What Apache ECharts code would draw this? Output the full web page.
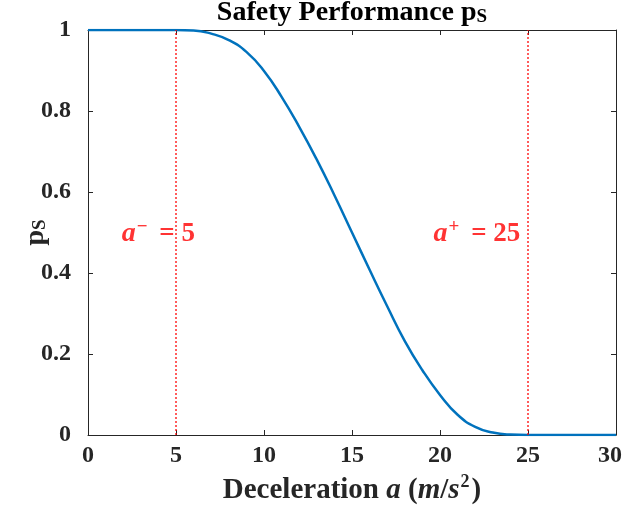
<!DOCTYPE html>
<html>
<head>
<meta charset="utf-8">
<script src="https://cdn.jsdelivr.net/npm/echarts@6/dist/echarts.min.js"></script>
<style>
  html, body { margin: 0; padding: 0; background: #fff; }
  #chart { width: 623px; height: 507px; }
</style>
</head>
<body>
<div id="chart"></div>
<script>
// Deceleration (m/s^2) and the matching safety performance p_S
const decel = [0, 1, 2, 3, 4, 5, 6, 7, 8, 9, 10, 11, 12, 13, 14, 15,
  16, 17, 18, 19, 20, 21, 22, 23, 24, 25, 26, 27, 28, 29, 30];
const safety = [1, 1, 1, 1, 1, 1, 0.999, 0.991, 0.975, 0.946, 0.899, 0.835, 0.761, 0.680, 0.592, 0.5,
  0.408, 0.318, 0.232, 0.160, 0.099, 0.050, 0.020, 0.006, 0.001, 0, 0, 0, 0, 0, 0];

// Acceleration bounds marked on the plot
const bounds = [
  { value: 5, text: '{i|a}{sup|−}{b| = 5}', labelX: 4.0 },
  { value: 25, text: '{i|a}{sup|+}{b| = 25}', labelX: 22.1 }
];

const xTicks = [0, 5, 10, 15, 20, 25, 30];
const yTicks = [0, 0.2, 0.4, 0.6, 0.8, 1];

const serif = '"Liberation Serif", "DejaVu Serif", serif';
const axisColor = '#262626';

const chart = echarts.init(document.getElementById('chart'));

const axisCommon = {
  axisLine: { show: true, onZero: false, lineStyle: { color: axisColor, width: 1 } },
  axisTick: { show: true, inside: true, length: 5, lineStyle: { color: axisColor, width: 1 } },
  splitLine: { show: false }
};

const tickFont = { fontFamily: serif, fontWeight: 'bold', fontSize: 24, color: '#262626' };

chart.setOption({
  animation: false,
  backgroundColor: '#ffffff',
  title: {
    text: '{t|Safety Performance p}{s|S}',
    left: 352,
    textAlign: 'center',
    top: -1,
    padding: 0,
    textStyle: {
      rich: {
        t: { fontFamily: serif, fontWeight: 'bold', fontSize: 28, color: '#000', lineHeight: 28, verticalAlign: 'top', padding: [0, 0, 3, 0] },
        s: { fontFamily: serif, fontWeight: 'bold', fontSize: 19, color: '#000', lineHeight: 20, verticalAlign: 'bottom' }
      }
    }
  },
  grid: { left: 88, right: 7, top: 30, bottom: 72, outerBoundsMode: 'none', containLabel: false },
  xAxis: [
    Object.assign({
      type: 'value', min: 0, max: 30, interval: 5, position: 'bottom',
      name: '{r|Deceleration }{i|a}{r| (}{i|m}{r|/}{i|s}{sup|2}{r|)}',
      nameLocation: 'middle', nameGap: 34,
      nameTextStyle: {
        rich: {
          r: { fontFamily: serif, fontWeight: 'bold', fontSize: 29, color: '#262626', lineHeight: 32, verticalAlign: 'bottom' },
          i: { fontFamily: serif, fontStyle: 'italic', fontWeight: 'bold', fontSize: 29, color: '#262626', lineHeight: 32, verticalAlign: 'bottom' },
          sup: { fontFamily: serif, fontWeight: 'bold', fontSize: 18, color: '#262626', lineHeight: 32, verticalAlign: 'top', padding: [0, 2, 0, 1] }
        }
      },
      axisLabel: Object.assign({
        margin: 9,
        // the last label sits a little inside the right edge
        formatter: v => !xTicks.includes(v) ? '' : (v === 30 ? '{e|30}' : String(v)),
        rich: { e: Object.assign({ padding: [0, 12, 0, 0] }, tickFont) }
      }, tickFont)
    }, axisCommon),
    Object.assign({
      type: 'value', min: 0, max: 30, interval: 5, position: 'top',
      axisLabel: { show: false }
    }, axisCommon)
  ],
  yAxis: [
    Object.assign({
      type: 'value', min: 0, max: 1, interval: 0.2, position: 'left',
      name: '{p|p}{s|S}', nameLocation: 'middle', nameGap: 38, nameRotate: 90,
      nameMoveOverlap: false,
      nameTextStyle: {
        rich: {
          p: { fontFamily: serif, fontWeight: 'bold', fontSize: 28, color: '#262626', lineHeight: 28, verticalAlign: 'top', padding: [0, 0, 3, 0] },
          s: { fontFamily: serif, fontWeight: 'bold', fontSize: 19, color: '#262626', lineHeight: 20, verticalAlign: 'bottom' }
        }
      },
      axisLabel: Object.assign({
        margin: 17,
        formatter: v => {
          const t = yTicks.find(y => Math.abs(y - v) < 1e-9);
          return t === undefined ? '' : (t === 0 || t === 1 ? String(t) : t.toFixed(1));
        }
      }, tickFont)
    }, axisCommon),
    Object.assign({
      type: 'value', min: 0, max: 1, interval: 0.2, position: 'right',
      axisLabel: { show: false }
    }, axisCommon)
  ],
  series: [
    {
      type: 'line',
      data: decel.map((x, i) => [x, safety[i]]),
      smooth: 0.5,
      showSymbol: false,
      lineStyle: { color: '#0072BD', width: 2.5 },
      z: 3,
      markLine: {
        silent: true,
        symbol: 'none',
        label: { show: false },
        lineStyle: { color: '#ff0000', type: [2, 2], width: 1.5, opacity: 0.85 },
        data: bounds.map(b => [{ coord: [b.value, 0] }, { coord: [b.value, 1] }])
      }
    },
    {
      type: 'scatter',
      symbolSize: 0,
      silent: true,
      z: 4,
      data: bounds.map(b => ({ value: [b.labelX, 0.5], text: b.text })),
      label: {
        show: true,
        position: 'inside',
        formatter: p => p.data.text,
        rich: {
          i: { fontFamily: serif, fontStyle: 'italic', fontWeight: 'bold', fontSize: 28, color: '#ff0000', lineHeight: 30, verticalAlign: 'bottom' },
          sup: { fontFamily: serif, fontWeight: 'bold', fontSize: 19, color: '#ff0000', lineHeight: 30, verticalAlign: 'top', padding: [0, 5, 0, 1] },
          b: { fontFamily: serif, fontWeight: 'bold', fontSize: 27, color: '#ff0000', lineHeight: 30, verticalAlign: 'bottom' }
        }
      }
    }
  ]
});
</script>
</body>
</html>
